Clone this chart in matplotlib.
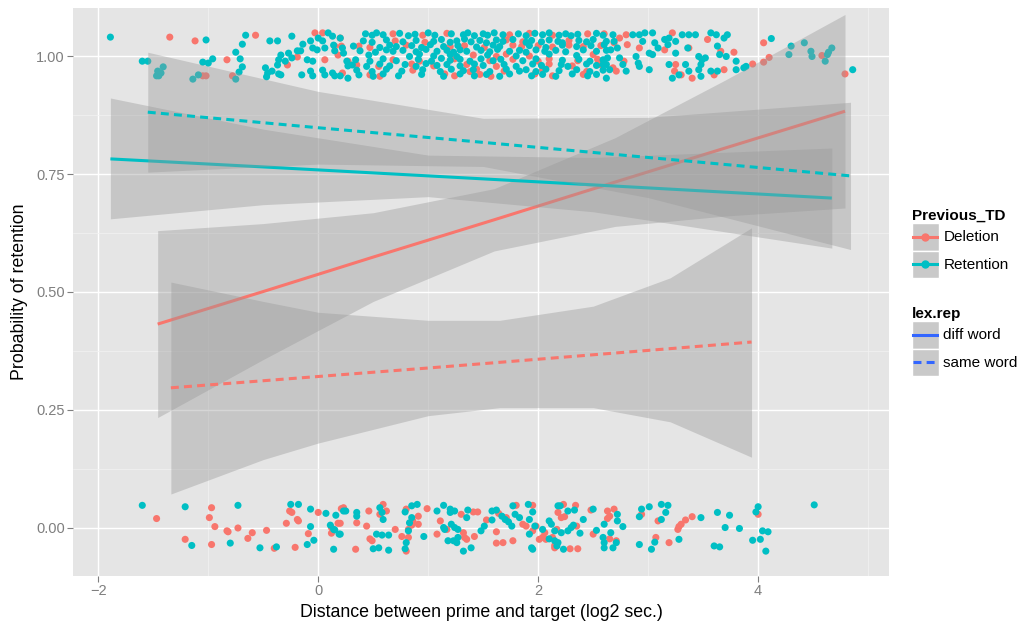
import numpy as np
import matplotlib
matplotlib.use("Agg")
import matplotlib.pyplot as plt
from matplotlib.patches import Rectangle
from matplotlib.lines import Line2D
from matplotlib.legend_handler import HandlerBase

plt.rcParams['font.family'] = ['Liberation Sans', 'DejaVu Sans']

RED = '#F8766D'
CYAN = '#00BFC4'

# jittered observations (x = log2 distance, y = 0/1 retention with jitter)
top_ret = [
    (-1.89, 1.040), (-1.60, 0.989), (-1.55, 0.989), (-1.46, 0.968), (-1.45, 0.958), (-1.41, 0.977), (-1.47, 0.958),
    (-1.43, 0.964), (-1.14, 0.951), (-1.09, 0.960), (-1.05, 0.987), (-1.00, 0.985), (-0.96, 0.994), (-1.02, 1.034),
    (-0.75, 1.008), (-0.69, 1.025), (-0.66, 1.044), (-0.71, 0.994), (-0.69, 0.977), (-0.72, 0.966), (-0.75, 0.951),
    (-0.44, 1.032), (-0.37, 1.032), (-0.24, 1.042), (-0.48, 0.975), (-0.46, 0.964), (-0.47, 0.956), (-0.42, 0.968),
    (-0.37, 0.981), (-0.36, 0.992), (-0.34, 1.002), (-0.30, 0.989), (-0.27, 1.006), (-0.24, 0.996), (-0.19, 1.011),
    (-0.16, 1.011), (-0.14, 1.025), (-0.10, 0.992), (-0.07, 1.032), (-0.05, 1.017), (-0.05, 0.989), (-0.01, 1.013),
    (0.00, 1.038), (0.04, 1.032), (0.06, 1.017), (0.09, 1.049), (0.13, 1.042), (0.14, 1.023), (0.15, 1.011),
    (0.20, 1.038), (0.22, 1.017), (0.23, 1.006), (0.26, 0.989), (0.27, 0.979), (-0.36, 0.962), (-0.34, 0.960),
    (-0.15, 0.960), (-0.07, 0.968), (0.04, 0.970), (0.06, 0.960), (0.13, 0.964), (0.15, 0.958), (0.20, 0.958),
    (0.27, 0.953), (-0.05, 0.958),
    (0.43, 1.047), (0.49, 1.044), (0.53, 1.049), (0.59, 1.045), (0.74, 1.048), (0.82, 1.043), (0.88, 1.046),
    (1.00, 1.049), (1.06, 1.044), (1.21, 1.047), (1.32, 1.045), (1.36, 1.049), (1.42, 1.043), (1.50, 1.047),
    (1.54, 1.044), (1.60, 1.049), (1.68, 1.045), (1.82, 1.047), (1.89, 1.043), (1.97, 1.048), (2.04, 1.045),
    (2.10, 1.049), (2.19, 1.044), (2.25, 1.047), (2.30, 1.043), (2.36, 1.046), (2.53, 1.048), (2.59, 1.044),
    (0.41, 1.032), (0.49, 1.029), (0.62, 1.034), (0.77, 1.030), (0.89, 1.033), (1.05, 1.031), (1.12, 1.035),
    (1.20, 1.029), (1.26, 1.032), (1.33, 1.036), (1.39, 1.030), (1.47, 1.033), (1.53, 1.028), (1.62, 1.034),
    (1.68, 1.031), (1.77, 1.035), (1.89, 1.029), (1.94, 1.033), (2.03, 1.030), (2.10, 1.034), (2.18, 1.031),
    (2.22, 1.028), (2.37, 1.033), (2.44, 1.030), (2.50, 1.035), (2.62, 1.031),
    (0.32, 1.021), (0.56, 1.018), (0.65, 1.023), (0.71, 1.020), (0.85, 1.022), (0.94, 1.018), (1.02, 1.024),
    (1.14, 1.020), (1.27, 1.022), (1.44, 1.019), (1.59, 1.023), (1.65, 1.020), (1.92, 1.022), (2.07, 1.018),
    (2.22, 1.023), (2.35, 1.020), (2.48, 1.022),
    (0.38, 1.011), (0.52, 1.008), (0.62, 1.013), (0.68, 1.010), (0.77, 1.012), (0.89, 1.009), (0.98, 1.014),
    (1.08, 1.010), (1.17, 1.012), (1.23, 1.008), (1.29, 1.013), (1.35, 1.010), (1.48, 1.012), (1.56, 1.009),
    (1.63, 1.014), (1.74, 1.010), (1.83, 1.012), (1.89, 1.008), (1.98, 1.013), (2.06, 1.010), (2.16, 1.012),
    (2.25, 1.009), (2.41, 1.013), (2.53, 1.010), (2.62, 1.012),
    (0.46, 1.002), (0.83, 0.999), (0.92, 1.004), (1.05, 1.000), (1.20, 1.003), (1.26, 0.999), (1.54, 1.002),
    (1.80, 1.000), (2.10, 1.004), (2.35, 1.001),
    (0.34, 0.992), (0.47, 0.989), (0.59, 0.994), (0.71, 0.990), (0.91, 0.993), (1.03, 0.989), (1.12, 0.995),
    (1.20, 0.991), (1.29, 0.993), (1.38, 0.989), (1.48, 0.994), (1.59, 0.990), (1.66, 0.993), (1.86, 0.990),
    (1.98, 0.994), (2.22, 0.991), (2.37, 0.993), (2.47, 0.989), (2.59, 0.992),
    (0.31, 0.981), (0.44, 0.978), (0.56, 0.983), (0.65, 0.979), (0.79, 0.982), (0.89, 0.978), (0.98, 0.984),
    (1.08, 0.980), (1.17, 0.982), (1.29, 0.979), (1.42, 0.983), (1.50, 0.980), (1.69, 0.982), (1.80, 0.978),
    (1.95, 0.983), (2.03, 0.980), (2.21, 0.982), (2.27, 0.978), (2.44, 0.983), (2.53, 0.980), (2.62, 0.982),
    (0.35, 0.970), (0.49, 0.967), (0.62, 0.972), (0.76, 0.968), (0.95, 0.971), (1.11, 0.967), (1.21, 0.972),
    (1.32, 0.969), (1.41, 0.971), (1.56, 0.967), (1.71, 0.972), (1.83, 0.968), (1.89, 0.971), (1.98, 0.967),
    (2.07, 0.972), (2.19, 0.969), (2.35, 0.971), (2.47, 0.967), (2.59, 0.970),
    (0.37, 0.960), (0.50, 0.957), (0.59, 0.962), (0.73, 0.958), (0.94, 0.961), (1.14, 0.957), (1.29, 0.962),
    (1.42, 0.958), (1.53, 0.961), (1.65, 0.957), (1.74, 0.962), (1.94, 0.958), (2.04, 0.961), (2.16, 0.957),
    (2.31, 0.962), (2.45, 0.958), (2.53, 0.961),
    (2.60, 1.024), (2.68, 1.045), (2.69, 1.031), (2.66, 1.013), (2.63, 0.996), (2.59, 0.982), (2.65, 0.971),
    (2.62, 0.953), (2.72, 1.017), (2.74, 0.996), (2.77, 0.982), (2.80, 0.968), (2.86, 1.045), (2.92, 1.045),
    (2.95, 1.031), (2.97, 1.049), (3.04, 1.049), (3.06, 1.028), (3.09, 1.017), (3.15, 1.035), (3.18, 1.024),
    (3.19, 1.038), (3.25, 1.031), (3.31, 1.045), (3.37, 1.045), (3.43, 1.045), (3.57, 1.049), (3.62, 1.045),
    (3.63, 1.021), (3.69, 1.038), (3.72, 1.045), (3.65, 1.003), (3.71, 0.999), (3.80, 0.989), (3.46, 0.999),
    (3.49, 0.992), (3.52, 0.996), (3.48, 0.982), (3.36, 1.017), (3.25, 1.006), (3.01, 1.006), (3.04, 1.003),
    (2.89, 0.999), (2.91, 0.985), (2.92, 0.978), (3.01, 0.971), (3.19, 0.982), (3.22, 0.953), (3.28, 0.960),
    (3.34, 0.982), (3.37, 0.968), (3.46, 0.971), (3.48, 0.957), (3.57, 0.968), (3.63, 0.968), (3.80, 0.971),
    (3.87, 0.975), (3.89, 0.978), (4.12, 1.037), (4.30, 1.021), (4.42, 1.028), (4.48, 1.010), (4.28, 1.003),
    (4.49, 0.999), (4.63, 1.003), (4.64, 1.008), (4.67, 1.017), (4.61, 0.989), (4.86, 0.971),
]

top_del = [
    (-1.35, 1.040), (-1.12, 1.032), (-0.57, 1.044), (-0.83, 0.992), (-1.05, 0.958), (-1.02, 0.958), (-0.78, 0.958),
    (-0.28, 0.981), (-0.19, 0.998), (-0.03, 1.049), (0.04, 1.049), (0.06, 0.992), (0.15, 1.021), (0.20, 1.038),
    (0.21, 1.021), (0.18, 1.002), (0.22, 0.964), (0.27, 0.989),
    (0.68, 1.047), (0.95, 1.044), (1.17, 1.048), (1.74, 1.045), (1.92, 1.048), (2.13, 1.044), (2.45, 1.047),
    (0.70, 1.032), (0.97, 1.029), (1.71, 1.034), (1.86, 1.030), (2.28, 1.033),
    (0.37, 1.021), (0.47, 1.018), (0.80, 1.023), (1.20, 1.020), (1.33, 1.022), (1.51, 1.018), (1.77, 1.023),
    (1.85, 1.020), (2.00, 1.022), (2.13, 1.019), (2.28, 1.023), (2.41, 1.020), (2.57, 1.022),
    (1.41, 1.002), (1.62, 0.999), (1.71, 1.004), (1.92, 1.000), (2.50, 1.003),
    (0.68, 0.992), (0.92, 0.989), (1.24, 0.994), (1.56, 0.990), (1.77, 0.993), (2.00, 0.989), (2.10, 0.994),
    (2.36, 0.990), (2.54, 0.993),
    (0.35, 0.981), (0.55, 0.978), (0.85, 0.983), (1.05, 0.979), (1.35, 0.982), (1.62, 0.978), (2.10, 0.983),
    (2.31, 0.979), (2.56, 0.982),
    (0.86, 0.970), (1.38, 0.967), (1.44, 0.972), (1.69, 0.968), (2.04, 0.971), (2.44, 0.967),
    (0.47, 0.960), (0.56, 0.957), (1.15, 0.962), (1.24, 0.958), (1.47, 0.961), (1.57, 0.957), (1.97, 0.962),
    (2.13, 0.958), (2.41, 0.961),
    (2.60, 1.047), (2.69, 1.028), (2.74, 1.038), (2.80, 1.045), (2.81, 1.024), (2.92, 1.017), (3.15, 1.013),
    (3.22, 1.049), (3.37, 1.017), (3.54, 1.035), (2.57, 0.982), (2.68, 0.975), (2.71, 0.968), (2.78, 0.989),
    (3.25, 0.982), (3.24, 0.968), (3.30, 0.960), (3.40, 0.953), (3.60, 0.960), (3.69, 0.971), (3.66, 1.010),
    (3.78, 1.008), (3.95, 0.983), (4.05, 1.028), (4.05, 0.987), (4.10, 0.997), (4.58, 1.001), (4.79, 0.962),
]

bot_ret = [
    (-1.60, 0.048), (-1.21, 0.045), (-1.15, -0.037), (-0.73, 0.048), (-0.80, -0.032), (-0.53, -0.042),
    (-0.38, -0.040), (-0.25, 0.050), (-0.18, 0.050), (-0.07, 0.040), (-0.07, 0.003), (-0.10, -0.035),
    (-0.04, -0.026), (0.07, 0.031), (0.16, 0.027), (0.11, 0.006), (0.14, -0.003), (0.15, -0.004),
    (0.19, -0.013), (0.14, -0.045), (0.23, 0.036),
    (0.25, 0.036), (0.35, 0.033), (0.35, 0.025), (0.20, -0.013), (0.58, 0.033), (0.59, 0.018), (0.56, 0.043),
    (0.53, -0.013), (0.58, -0.015), (0.64, -0.015), (0.50, -0.044), (0.55, -0.042), (0.64, -0.047),
    (0.79, -0.044), (0.80, -0.031), (0.82, -0.006), (0.83, 0.011), (0.85, 0.022), (0.85, 0.047), (0.90, 0.050),
    (0.79, 0.034), (0.96, -0.018), (1.08, 0.036), (1.14, 0.048), (1.20, 0.040), (1.24, 0.036), (1.20, 0.033),
    (1.36, 0.038), (1.35, 0.022), (1.21, 0.008), (1.24, 0.001), (1.27, -0.003), (1.14, 0.001), (1.15, -0.003),
    (1.18, -0.027), (1.23, -0.027), (1.27, -0.020), (1.26, -0.031), (1.32, -0.049), (1.39, -0.042),
    (1.48, -0.006), (1.51, 0.004), (1.58, 0.017), (1.58, 0.036), (1.62, 0.038), (1.67, 0.025), (1.70, 0.018),
    (1.73, 0.013), (1.76, 0.004), (1.77, 0.047), (1.79, 0.029), (1.83, 0.022), (1.91, 0.050), (1.92, 0.018),
    (1.95, 0.034), (1.97, 0.004), (1.92, -0.013), (1.94, -0.042), (1.95, -0.045), (2.04, -0.003), (2.10, 0.015),
    (2.12, 0.008), (2.10, -0.023), (2.15, -0.027), (2.17, -0.038), (2.18, 0.047),
    (2.20, 0.047), (2.27, 0.036), (2.33, 0.038), (2.21, -0.010), (2.27, -0.006), (2.30, 0.001), (2.32, 0.006),
    (2.38, -0.011), (2.18, -0.031), (2.23, -0.045), (2.41, 0.018), (2.50, 0.040), (2.53, -0.005), (2.60, 0.008),
    (2.59, -0.020), (2.60, -0.031), (2.60, -0.042), (2.68, -0.042), (2.66, -0.010), (2.72, 0.029), (2.72, 0.015),
    (2.77, 0.003), (2.94, 0.040), (2.92, 0.024), (3.01, 0.045), (3.12, 0.050), (3.18, 0.048), (3.16, 0.033),
    (3.12, 0.018), (3.06, -0.030), (3.03, -0.045), (2.92, -0.035), (3.28, -0.024), (3.48, 0.022), (3.63, 0.033),
    (3.74, 0.027), (3.70, 0.001), (3.83, -0.001), (3.60, -0.038), (3.65, -0.040), (3.95, -0.026), (4.02, -0.024),
    (4.04, -0.006), (4.09, -0.008), (3.98, 0.034), (4.00, 0.045), (4.07, -0.049), (2.15, -0.006), (2.71, -0.031),
    (4.51, 0.049),
]

bot_del = [
    (-1.47, 0.020), (-1.21, -0.024), (-0.97, 0.043), (-0.99, 0.022), (-0.94, 0.003), (-0.83, -0.006),
    (-0.82, -0.008), (-0.73, 0.000), (-0.64, -0.022), (-0.60, -0.010), (-0.47, -0.005), (-0.40, -0.043),
    (-0.21, -0.041), (-0.29, 0.010), (-0.26, 0.036), (-0.24, 0.033), (-0.19, 0.018), (-0.18, 0.015),
    (-0.09, -0.012), (0.00, 0.033), (0.18, 0.010), (0.12, 0.001), (0.12, -0.011), (0.21, 0.041), (-0.97, -0.035),
    (0.23, 0.043), (0.20, 0.010), (0.35, 0.011), (0.46, 0.036), (0.44, 0.004), (0.56, 0.029), (0.59, 0.050),
    (0.62, 0.036), (0.70, -0.003), (0.76, -0.018), (0.47, -0.023), (0.49, -0.027), (0.34, -0.045), (0.80, 0.040),
    (0.82, -0.020), (0.82, -0.003), (0.85, 0.006), (0.86, 0.015), (0.91, 0.025), (0.91, 0.008), (0.99, 0.041),
    (0.80, -0.049), (1.08, -0.013), (1.11, 0.015), (1.17, -0.003), (1.30, 0.029), (1.32, -0.010), (1.33, -0.020),
    (1.35, -0.024), (1.41, 0.034), (1.45, 0.034), (1.42, -0.018), (1.53, 0.017), (1.62, -0.008), (1.62, -0.032),
    (1.64, 0.031), (1.68, -0.031), (1.71, 0.022), (1.77, -0.027), (1.80, 0.048), (1.86, 0.008), (1.89, 0.004),
    (1.95, 0.048), (1.98, 0.004), (2.01, -0.024), (2.04, -0.020), (2.06, -0.010), (2.07, -0.024), (2.13, -0.020),
    (2.15, -0.037), (1.95, -0.006),
    (2.23, 0.050), (2.34, 0.048), (2.18, 0.033), (2.21, 0.022), (2.24, 0.024), (2.35, 0.004), (2.17, -0.003),
    (2.48, 0.038), (2.63, 0.036), (2.69, 0.040), (2.65, 0.025), (2.63, 0.020), (2.50, -0.013), (2.65, -0.023),
    (2.71, -0.027), (2.29, -0.044), (2.36, -0.044), (2.15, -0.042), (2.94, 0.029), (3.09, 0.015), (3.07, -0.020),
    (3.19, -0.031), (3.27, -0.003), (3.28, 0.003), (3.30, 0.008), (3.34, 0.017), (3.40, 0.024), (4.00, 0.029),
]

# glm smooth fits: x, fitted, lower and upper band
del_diff_x = [-1.46, -0.5, 0.5, 1.6, 2.7, 3.7, 4.79]
del_diff_fit = [0.432, 0.501, 0.574, 0.653, 0.733, 0.805, 0.883]
del_diff_lo = [0.234, 0.357, 0.480, 0.587, 0.639, 0.661, 0.678]
del_diff_hi = [0.630, 0.645, 0.668, 0.719, 0.827, 0.949, 1.088]

del_same_x = [-1.34, -0.5, 0.0, 1.0, 1.65, 2.5, 3.2, 3.94]
del_same_fit = [0.297, 0.312, 0.321, 0.339, 0.351, 0.367, 0.380, 0.394]
del_same_lo = [0.072, 0.145, 0.180, 0.238, 0.255, 0.255, 0.225, 0.150]
del_same_hi = [0.521, 0.480, 0.457, 0.440, 0.440, 0.470, 0.530, 0.636]

ret_diff_x = [-1.89, -0.5, 1.0, 2.5, 4.67]
ret_diff_fit = [0.782, 0.765, 0.746, 0.727, 0.699]
ret_diff_lo = [0.655, 0.685, 0.702, 0.670, 0.593]
ret_diff_hi = [0.911, 0.845, 0.790, 0.785, 0.805]

ret_same_x = [-1.55, 0.0, 1.5, 3.0, 4.84]
ret_same_fit = [0.881, 0.848, 0.817, 0.785, 0.746]
ret_same_lo = [0.754, 0.771, 0.766, 0.700, 0.590]
ret_same_hi = [1.008, 0.925, 0.868, 0.870, 0.902]

fits = [
    (del_diff_x, del_diff_fit, del_diff_lo, del_diff_hi, RED, '-'),
    (del_same_x, del_same_fit, del_same_lo, del_same_hi, RED, '--'),
    (ret_diff_x, ret_diff_fit, ret_diff_lo, ret_diff_hi, CYAN, '-'),
    (ret_same_x, ret_same_fit, ret_same_lo, ret_same_hi, CYAN, '--'),
]

fig = plt.figure(figsize=(10.27, 6.26), dpi=100)
ax = fig.add_axes([73 / 1027, 50 / 626, 816 / 1027, 568 / 626])
ax.set_facecolor('#E5E5E5')
for s in ax.spines.values():
    s.set_visible(False)

# points first (under the bands)
for pts, col in [(top_del, RED), (top_ret, CYAN), (bot_del, RED), (bot_ret, CYAN)]:
    a = np.array(pts)
    ax.scatter(a[:, 0], a[:, 1], s=26, color=col, edgecolors='none', zorder=2)

dash = (0, (2.6, 1.7))
for x, fit, lo, hi, col, ls in fits:
    ax.fill_between(x, lo, hi, color='#999999', alpha=0.4, linewidth=0, zorder=3)
    ax.plot(x, fit, color=col, lw=2.2, linestyle=dash if ls == '--' else '-',
            solid_capstyle='butt', zorder=3)

ax.set_xlim(-2.23, 5.19)
ax.set_ylim(-0.1017, 1.1017)
ax.set_xticks([-2, 0, 2, 4])
ax.set_xticklabels(['\u22122', '0', '2', '4'])
ax.set_yticks([0, 0.25, 0.5, 0.75, 1.0])
ax.set_yticklabels(['0.00', '0.25', '0.50', '0.75', '1.00'])
ax.set_xticks([-1, 1, 3, 5], minor=True)
ax.set_yticks([0.125, 0.375, 0.625, 0.875], minor=True)
ax.grid(which='major', color='white', lw=1.0, zorder=0)
ax.grid(which='minor', color='#F2F2F2', lw=0.5, zorder=0)
ax.set_axisbelow(True)
ax.tick_params(which='major', colors='#7F7F7F', labelsize=10.5, length=4, width=0.8, pad=2)
ax.tick_params(which='minor', length=0)

ax.set_xlabel('Distance between prime and target (log2 sec.)', fontsize=12.8, labelpad=4)
ax.set_ylabel('Probability of retention', fontsize=12.8, labelpad=6)


# ggplot-style legend key: grey box with the line (and point) centred in it
class KeyHandler(HandlerBase):
    def create_artists(self, legend, orig_handle, xdescent, ydescent, width, height, fontsize, trans):
        col, ls, marker = orig_handle
        x0, y0 = -xdescent, -ydescent
        yc = y0 + height / 2
        bg = Rectangle((x0, y0), width, height, facecolor='#C9C9C9', edgecolor='white',
                       linewidth=1.0, transform=trans)
        ln = Line2D([x0 + 1, x0 + width - 1], [yc, yc], color=col, lw=2.2, linestyle=ls, transform=trans)
        arts = [bg, ln]
        if marker:
            arts.append(Line2D([x0 + width / 2], [yc], color=col, marker=marker, markersize=5,
                               linestyle='none', transform=trans))
        return arts


hmap = {tuple: KeyHandler()}
leg_kw = dict(loc='upper left', frameon=False, handler_map=hmap, handlelength=1.75,
              handleheight=2.4, labelspacing=0.0, handletextpad=0.3, borderpad=0,
              borderaxespad=0, fontsize=11, title_fontproperties={'weight': 'bold', 'size': 11})
leg1 = fig.legend([(RED, '-', 'o'), (CYAN, '-', 'o')], ['Deletion', 'Retention'],
                  title='Previous_TD', bbox_to_anchor=(912 / 1027, 1 - 209 / 626), **leg_kw)
leg1._legend_box.align = 'left'
leg2 = fig.legend([('#3366FF', '-', None), ('#3366FF', dash, None)], ['diff word', 'same word'],
                  title='lex.rep', bbox_to_anchor=(912 / 1027, 1 - 307 / 626), **leg_kw)
leg2._legend_box.align = 'left'

fig.savefig('out.png', dpi=100)
